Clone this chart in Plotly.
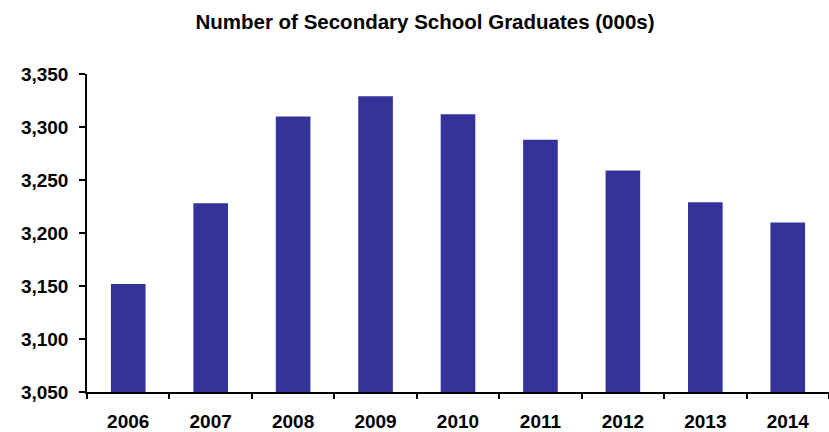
import plotly.graph_objects as go

years = ["2006", "2007", "2008", "2009", "2010", "2011", "2012", "2013", "2014"]
graduates = [3152, 3228, 3310, 3329, 3312, 3288, 3259, 3229, 3210]
y_ticks = [3050, 3100, 3150, 3200, 3250, 3300, 3350]

fig = go.Figure(go.Bar(x=years, y=graduates, marker_color="#333399", marker_line_width=0))

font = "Liberation Sans, Arial, sans-serif"
fig.update_layout(
    width=829, height=432,
    margin=dict(l=87, r=0, t=74, b=40),
    paper_bgcolor="white", plot_bgcolor="white",
    bargap=0.58,
    showlegend=False,
    title=dict(text="Number of Secondary School Graduates (000s)",
               x=425/829, xanchor="center", y=1-22/432, yanchor="middle",
               font=dict(family=font, size=20.5, color="black", weight="bold")),
)
fig.update_xaxes(
    type="category", showline=True, linecolor="black", linewidth=1.5,
    ticks="outside", tickson="boundaries", ticklen=5, tickcolor="black", tickwidth=1.5,
    tickfont=dict(family=font, size=19, color="black", weight="bold"),
    ticklabelstandoff=11,
    showgrid=False, zeroline=False,
)
fig.update_yaxes(
    range=[3050, 3350], tickvals=y_ticks, tickformat=",d",
    showline=True, linecolor="black", linewidth=1.5,
    ticks="outside", ticklen=6, tickcolor="black", tickwidth=1.5,
    tickfont=dict(family=font, size=19, color="black", weight="bold"),
    ticklabelstandoff=7,
    showgrid=False, zeroline=False,
)

fig.write_html("out.html")
